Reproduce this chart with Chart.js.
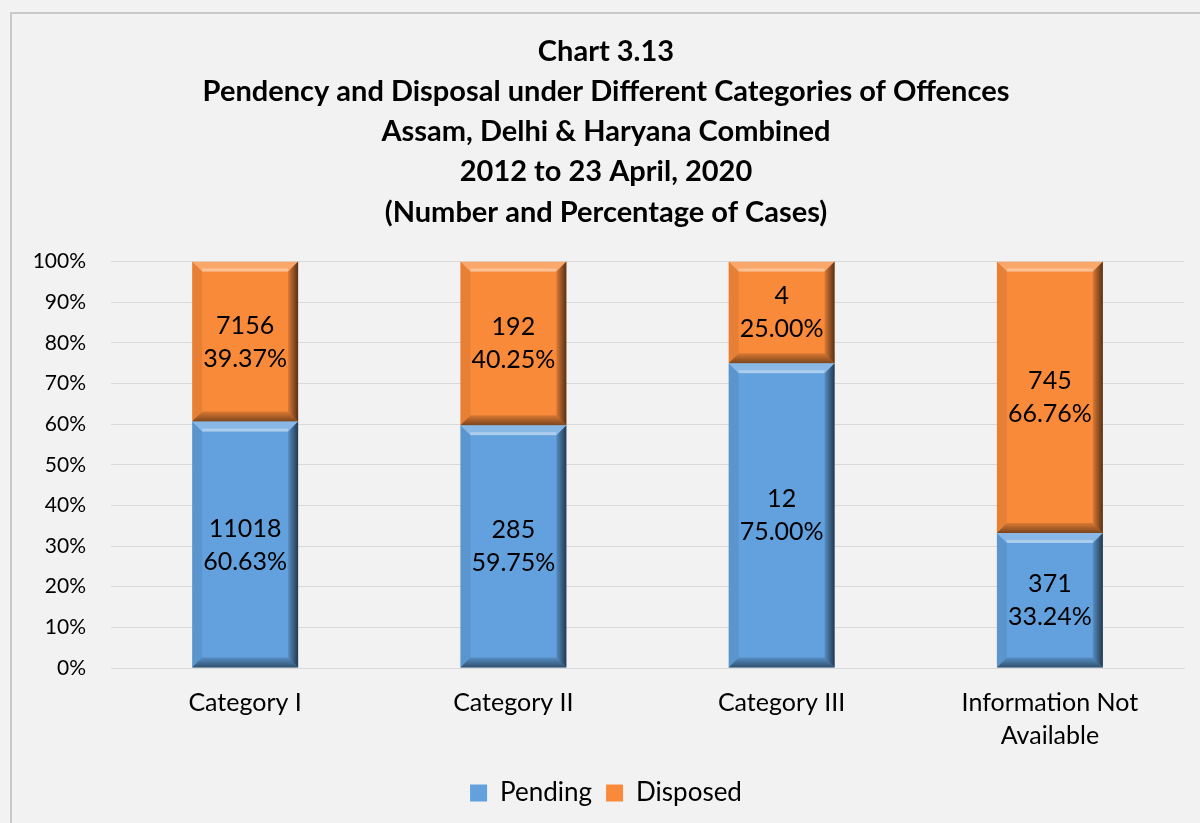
<!DOCTYPE html>
<html>
<head>
<meta charset="utf-8">
<script src="https://cdn.jsdelivr.net/npm/chart.js@4"></script>
<style>
  html, body { margin: 0; padding: 0; background: #f2f2f2; overflow: hidden; }
  #frame {
    position: absolute; left: 10px; top: 12px;
    width: 1210px; height: 830px;
    border: 2px solid #c9c9c9;
    background: #f2f2f2;
  }
  #grafico { display: block; }
</style>
</head>
<body>
<div id="frame">
  <canvas id="grafico" width="1210" height="830"></canvas>
</div>
<script>
const categorias = ["Category I", "Category II", "Category III", ["Information Not", "Available"]];
const pendentes = [11018, 285, 12, 371];
const dispostos = [7156, 192, 4, 745];
const pendentesPct = [60.63, 59.75, 75.00, 33.24];
const dispostosPct = [39.37, 40.25, 25.00, 66.76];
const ticksY = [0, 10, 20, 30, 40, 50, 60, 70, 80, 90, 100];

const fonte = "Lato, 'Open Sans', sans-serif";

// bevel look on each bar, drawn over the library's own bar elements
const chanfro = {
    id: 'chanfro',
    afterDatasetsDraw(chart) {
        const ctx = chart.ctx;
        chart.data.datasets.forEach((ds, i) => {
            const meta = chart.getDatasetMeta(i);
            meta.data.forEach(bar => {
                const p = bar.getProps(['x', 'y', 'base', 'width'], true);
                const l = p.x - p.width / 2, r = p.x + p.width / 2;
                const t = Math.min(p.y, p.base), b = Math.max(p.y, p.base);
                const s = 10;
                ctx.save();
                // top highlight
                ctx.fillStyle = 'rgba(255,255,255,0.25)';
                ctx.beginPath();
                ctx.moveTo(l, t); ctx.lineTo(r, t); ctx.lineTo(r - s, t + s); ctx.lineTo(l + s, t + s);
                ctx.closePath(); ctx.fill();
                ctx.fillStyle = 'rgba(255,255,255,0.3)';
                ctx.fillRect(l + s, t + s - 3, r - l - 2 * s, 3);
                // left side
                ctx.fillStyle = 'rgba(0,0,0,0.07)';
                ctx.beginPath();
                ctx.moveTo(l, t); ctx.lineTo(l + s, t + s); ctx.lineTo(l + s, b - s); ctx.lineTo(l, b);
                ctx.closePath(); ctx.fill();
                // right side
                const g = ctx.createLinearGradient(r - s, 0, r, 0);
                g.addColorStop(0, 'rgba(0,0,0,0.12)');
                g.addColorStop(1, 'rgba(0,0,0,0.65)');
                ctx.fillStyle = g;
                ctx.beginPath();
                ctx.moveTo(r, t); ctx.lineTo(r, b); ctx.lineTo(r - s, b - s); ctx.lineTo(r - s, t + s);
                ctx.closePath(); ctx.fill();
                // bottom
                const g2 = ctx.createLinearGradient(0, b - s, 0, b);
                g2.addColorStop(0, 'rgba(0,0,0,0.12)');
                g2.addColorStop(1, 'rgba(0,0,0,0.5)');
                ctx.fillStyle = g2;
                ctx.beginPath();
                ctx.moveTo(l, b); ctx.lineTo(r, b); ctx.lineTo(r - s, b - s); ctx.lineTo(l + s, b - s);
                ctx.closePath(); ctx.fill();
                ctx.restore();
            });
        });
    }
};

// two-line value labels in the middle of each segment
const rotulos = {
    id: 'rotulos',
    afterDatasetsDraw(chart) {
        const ctx = chart.ctx;
        ctx.save();
        ctx.font = "25px " + fonte;
        ctx.fillStyle = '#000';
        ctx.textAlign = 'center';
        ctx.textBaseline = 'middle';
        chart.data.datasets.forEach((ds, i) => {
            const meta = chart.getDatasetMeta(i);
            meta.data.forEach((bar, j) => {
                const p = bar.getProps(['x', 'y', 'base'], true);
                const meio = (p.y + p.base) / 2;
                ctx.fillText(String(ds.contagens[j]), p.x, meio - 16);
                ctx.fillText(ds.data[j].toFixed(2) + '%', p.x, meio + 17);
            });
        });
        ctx.restore();
    }
};

const ctx = document.getElementById('grafico').getContext('2d');
new Chart(ctx, {
    type: 'bar',
    data: {
        labels: categorias,
        datasets: [{
            label: 'Pending',
            data: pendentesPct,
            contagens: pendentes,
            backgroundColor: '#62a1de',
            borderWidth: 0,
            categoryPercentage: 1,
            barPercentage: 0.395
        }, {
            label: 'Disposed',
            data: dispostosPct,
            contagens: dispostos,
            backgroundColor: '#f98a3a',
            borderWidth: 0,
            categoryPercentage: 1,
            barPercentage: 0.395
        }]
    },
    options: {
        responsive: false,
        animation: false,
        layout: { padding: { left: 16, right: 38, top: 17, bottom: 28 } },
        plugins: {
            title: {
                display: true,
                text: ["Chart 3.13",
                       "Pendency and Disposal under Different Categories of Offences",
                       "Assam, Delhi & Haryana Combined",
                       "2012 to 23 April, 2020",
                       "(Number and Percentage of Cases)"],
                color: '#000',
                font: { family: fonte, size: 29, weight: 'bold', lineHeight: 1.39 },
                padding: { top: 0, bottom: 29 }
            },
            legend: {
                position: 'bottom',
                labels: {
                    color: '#000',
                    font: { family: fonte, size: 26 },
                    boxWidth: 17,
                    boxHeight: 17,
                    padding: 14
                }
            },
            tooltip: { enabled: false }
        },
        scales: {
            x: {
                stacked: true,
                afterFit: axis => { axis.height += 4; },
                grid: { display: false },
                border: { color: '#d9d9d9' },
                ticks: { color: '#000', font: { family: fonte, size: 25, lineHeight: 1.32 }, padding: 10 }
            },
            y: {
                stacked: true,
                min: 0,
                max: 100,
                afterBuildTicks: axis => { axis.ticks = ticksY.map(v => ({ value: v })); },
                afterFit: axis => { axis.width = 83; },
                grid: { color: '#d9d9d9', drawTicks: false },
                border: { display: false },
                ticks: {
                    color: '#000',
                    font: { family: fonte, size: 21 },
                    padding: 25,
                    callback: v => v + '%'
                }
            }
        }
    },
    plugins: [chanfro, rotulos]
});
</script>
</body>
</html>
